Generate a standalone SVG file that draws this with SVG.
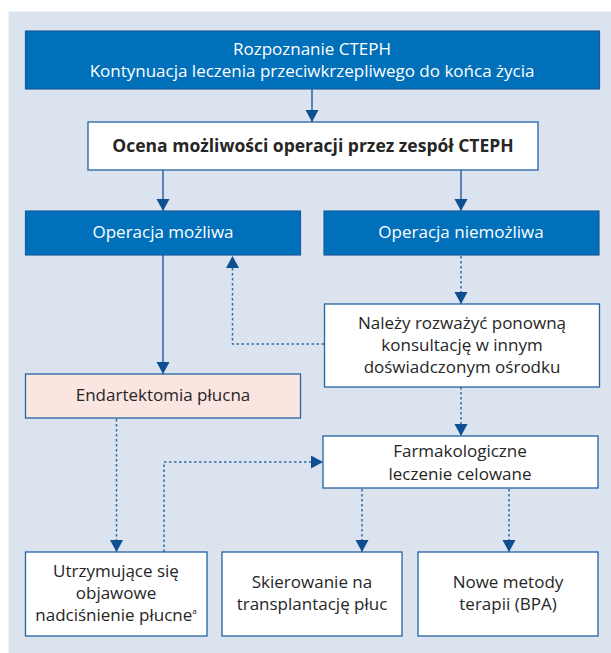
<svg xmlns="http://www.w3.org/2000/svg" width="611" height="653" viewBox="0 0 611 653">
<style>
  .bg { fill: #dae3ee; }
  .blue { fill: #0070bb; stroke: #1b5b9b; stroke-width: 1.2; }
  .white { fill: #ffffff; stroke: #2463a4; stroke-width: 1.3; }
  .pink { fill: #fbe5e1; stroke: #2463a4; stroke-width: 1.3; }
  text { font-family: "Open Sans", "Noto Sans", "Liberation Sans", sans-serif; font-size: 17px; text-anchor: middle; }
  .tw { fill: #ffffff; }
  .td { fill: #262626; }
  .bold { font-weight: bold; font-size: 17.5px; }
  .solid { stroke: #1f5c9c; stroke-width: 1.4; fill: none; }
  .dot { stroke: #2e6cac; stroke-width: 1.5; fill: none; stroke-dasharray: 2.5 2.5; }
</style>
<defs>
  <marker id="ah" markerUnits="userSpaceOnUse" markerWidth="13" markerHeight="14" refX="12" refY="6.5" orient="auto">
    <path d="M0,0 L12,6.5 L0,13 z" fill="#0d4f91"/>
  </marker>
</defs>
<rect class="bg" x="8.5" y="11.5" width="603" height="642"/>

<g id="connectors">
  <line class="solid" x1="312" y1="89" x2="312" y2="122" marker-end="url(#ah)"/>
  <line class="solid" x1="163" y1="170" x2="163" y2="211" marker-end="url(#ah)"/>
  <line class="solid" x1="461" y1="170" x2="461" y2="211" marker-end="url(#ah)"/>
  <line class="dot" x1="461" y1="256" x2="461" y2="304" marker-end="url(#ah)"/>
  <path class="dot" d="M324,344 H232.5 V256" marker-end="url(#ah)"/>
  <line class="solid" x1="163" y1="255" x2="163" y2="374" marker-end="url(#ah)"/>
  <line class="dot" x1="461" y1="387" x2="461" y2="436" marker-end="url(#ah)"/>
  <line class="dot" x1="116.5" y1="419" x2="116.5" y2="552" marker-end="url(#ah)"/>
  <path class="dot" d="M164,552 V462 H323" marker-end="url(#ah)"/>
  <line class="dot" x1="362" y1="489" x2="362" y2="552" marker-end="url(#ah)"/>
  <line class="dot" x1="509" y1="489" x2="509" y2="552" marker-end="url(#ah)"/>
</g>

<g id="rozpoznanie">
  <rect class="blue" x="25.5" y="31" width="574" height="58"/>
  <text class="tw" x="312" y="55">Rozpoznanie CTEPH</text>
  <text class="tw" x="312" y="77">Kontynuacja leczenia przeciwkrzepliwego do końca życia</text>
</g>

<g id="ocena">
  <rect class="white" x="88" y="122" width="450" height="48"/>
  <text class="td bold" x="313" y="152">Ocena możliwości operacji przez zespół CTEPH</text>
</g>

<g id="operacja-mozliwa">
  <rect class="blue" x="25.5" y="211" width="275" height="44"/>
  <text class="tw" x="163" y="238">Operacja możliwa</text>
</g>

<g id="operacja-niemozliwa">
  <rect class="blue" x="324" y="211" width="275" height="44"/>
  <text class="tw" x="461" y="238">Operacja niemożliwa</text>
</g>

<g id="nalezy">
  <rect class="white" x="324.5" y="304" width="275" height="83"/>
  <text class="td" x="462" y="329">Należy rozważyć ponowną</text>
  <text class="td" x="462" y="351">konsultację w innym</text>
  <text class="td" x="462" y="373">doświadczonym ośrodku</text>
</g>

<g id="endartektomia">
  <rect class="pink" x="25.5" y="374" width="275" height="44"/>
  <text class="td" x="163" y="401">Endartektomia płucna</text>
</g>

<g id="farmakologiczne">
  <rect class="white" x="323" y="436" width="275" height="52"/>
  <text class="td" x="460" y="457">Farmakologiczne</text>
  <text class="td" x="460" y="480">leczenie celowane</text>
</g>

<g id="utrzymujace">
  <rect class="white" x="25.5" y="552" width="181.5" height="84"/>
  <text class="td" x="116" y="577">Utrzymujące się</text>
  <text class="td" x="116" y="599">objawowe</text>
  <text class="td" x="116" y="621">nadciśnienie płucne<tspan font-size="8" dy="-7">a</tspan></text>
</g>

<g id="skierowanie">
  <rect class="white" x="222" y="552" width="180" height="84"/>
  <text class="td" x="312" y="588">Skierowanie na</text>
  <text class="td" x="312" y="610">transplantację płuc</text>
</g>

<g id="nowe-metody">
  <rect class="white" x="418" y="552" width="180" height="84"/>
  <text class="td" x="508" y="588">Nowe metody</text>
  <text class="td" x="508" y="610">terapii (BPA)</text>
</g>
</svg>
